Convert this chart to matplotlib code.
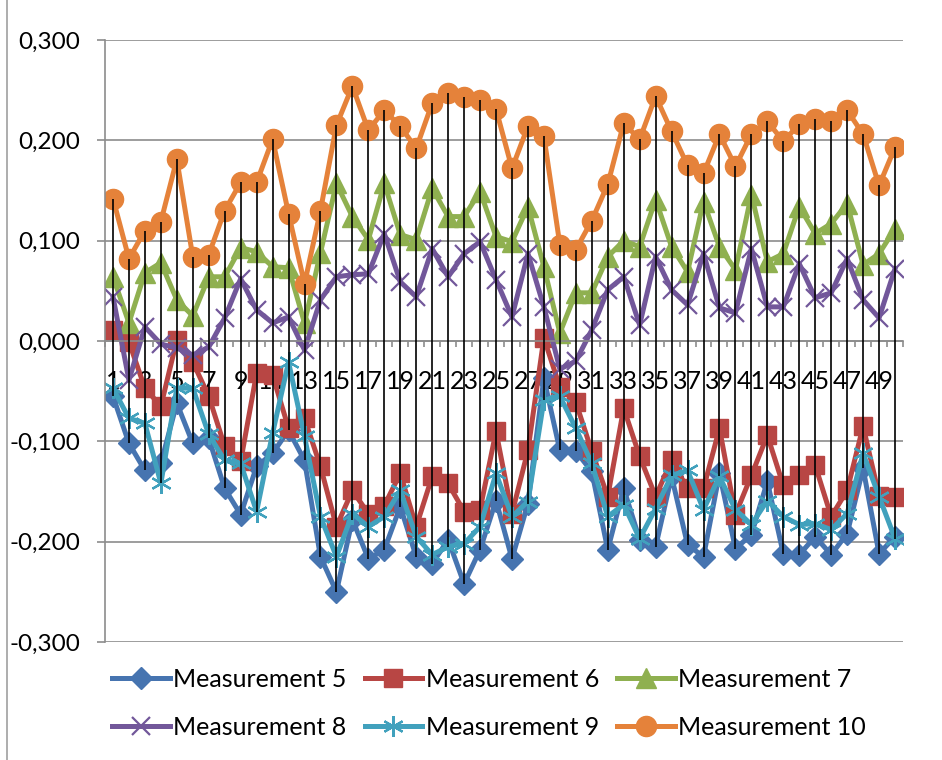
import numpy as np
import matplotlib
matplotlib.use("Agg")
import matplotlib.pyplot as plt
from matplotlib.lines import Line2D
from matplotlib.ticker import FuncFormatter, MultipleLocator

plt.rcParams['font.family'] = ['Lato', 'DejaVu Sans']

# values
m5 = [-0.055, -0.102, -0.129, -0.122, -0.062, -0.102, -0.097, -0.147, -0.173, -0.125,
      -0.112, -0.089, -0.119, -0.215, -0.250, -0.178, -0.217, -0.208, -0.165, -0.215,
      -0.222, -0.198, -0.242, -0.208, -0.159, -0.217, -0.162, -0.037, -0.109, -0.110,
      -0.130, -0.208, -0.147, -0.198, -0.205, -0.135, -0.203, -0.215, -0.132, -0.207,
      -0.193, -0.140, -0.212, -0.213, -0.195, -0.213, -0.192, -0.127, -0.212, -0.195]
m6 = [0.011, -0.001, -0.047, -0.065, 0.001, -0.021, -0.055, -0.105, -0.120, -0.032,
      -0.034, -0.087, -0.077, -0.125, -0.185, -0.149, -0.172, -0.164, -0.132, -0.185,
      -0.135, -0.142, -0.170, -0.168, -0.090, -0.172, -0.109, 0.003, -0.046, -0.061,
      -0.110, -0.155, -0.067, -0.115, -0.155, -0.119, -0.147, -0.147, -0.087, -0.173,
      -0.134, -0.094, -0.144, -0.134, -0.124, -0.175, -0.149, -0.085, -0.154, -0.155]
m7 = [0.064, 0.018, 0.068, 0.078, 0.041, 0.025, 0.064, 0.064, 0.093, 0.089,
      0.074, 0.073, 0.018, 0.088, 0.157, 0.124, 0.101, 0.157, 0.106, 0.101,
      0.152, 0.124, 0.124, 0.149, 0.104, 0.099, 0.134, 0.074, 0.008, 0.048,
      0.048, 0.084, 0.100, 0.094, 0.141, 0.094, 0.069, 0.139, 0.094, 0.071,
      0.146, 0.079, 0.087, 0.134, 0.107, 0.117, 0.137, 0.076, 0.087, 0.112]
m8 = [0.044, -0.039, 0.014, -0.003, -0.007, -0.014, -0.006, 0.023, 0.062, 0.031,
      0.018, 0.024, -0.009, 0.041, 0.064, 0.066, 0.067, 0.107, 0.059, 0.044,
      0.092, 0.064, 0.087, 0.099, 0.061, 0.024, 0.087, 0.034, -0.028, -0.020,
      0.011, 0.051, 0.064, 0.016, 0.084, 0.051, 0.036, 0.087, 0.033, 0.028,
      0.092, 0.034, 0.034, 0.077, 0.043, 0.048, 0.082, 0.041, 0.023, 0.072]
m9 = [-0.047, -0.077, -0.082, -0.142, -0.047, -0.047, -0.093, -0.119, -0.122, -0.170,
      -0.092, -0.021, -0.095, -0.175, -0.215, -0.172, -0.185, -0.175, -0.149, -0.195,
      -0.213, -0.205, -0.202, -0.185, -0.132, -0.175, -0.160, -0.059, -0.055, -0.087,
      -0.122, -0.175, -0.163, -0.197, -0.167, -0.134, -0.129, -0.168, -0.135, -0.168,
      -0.183, -0.159, -0.175, -0.183, -0.182, -0.188, -0.172, -0.112, -0.155, -0.197]
m10 = [0.142, 0.082, 0.110, 0.119, 0.181, 0.084, 0.086, 0.130, 0.158, 0.158,
       0.201, 0.127, 0.057, 0.130, 0.215, 0.254, 0.210, 0.230, 0.214, 0.192,
       0.237, 0.247, 0.243, 0.240, 0.231, 0.172, 0.214, 0.204, 0.096, 0.091,
       0.120, 0.156, 0.217, 0.201, 0.244, 0.209, 0.175, 0.167, 0.206, 0.174,
       0.206, 0.219, 0.199, 0.216, 0.221, 0.219, 0.230, 0.206, 0.155, 0.193]

names = ['Measurement 5', 'Measurement 6', 'Measurement 7',
         'Measurement 8', 'Measurement 9', 'Measurement 10']
series = [m5, m6, m7, m8, m9, m10]
x = np.arange(1, len(m5) + 1)

styles = [
    dict(color='#4674B0', marker='D', ms=11.5),
    dict(color='#B84644', marker='s', ms=13),
    dict(color='#8FB050', marker='^', ms=14),
    dict(color='#72579A', marker='x', ms=13, mew=1.6),
    dict(color='#41A1BD', marker=(6, 2, 0), ms=15, mew=1.6),
    dict(color='#E5823A', marker='o', ms=14.5),
]

fig = plt.figure(figsize=(9.42, 7.6), dpi=100)
ax = fig.add_axes([105 / 942, 1 - 642 / 760, 798 / 942, 602 / 760])

grid_c = '#8C8C8C'
lines = []
for name, vals, st in zip(names, series, styles):
    ln, = ax.plot(x, vals, lw=3.6, label=name, solid_joinstyle='round', **st)
    lines.append(ln)

# high-low lines
arr = np.array(series)
ax.vlines(x, arr.min(axis=0), arr.max(axis=0), color='black', lw=1.2, zorder=5)

ax.set_xlim(0.5, len(x) + 0.5)
ax.set_ylim(-0.3, 0.3)
ax.yaxis.set_major_locator(MultipleLocator(0.1))
ax.yaxis.set_major_formatter(FuncFormatter(lambda v, p: f'{v:.3f}'.replace('.', ',')))
ax.grid(axis='y', color=grid_c, lw=1.2)
ax.set_axisbelow(True)

for s in ['top', 'right']:
    ax.spines[s].set_visible(False)
ax.spines['left'].set_color(grid_c)
ax.spines['left'].set_linewidth(1.2)
ax.spines['bottom'].set_position(('data', 0))
ax.spines['bottom'].set_color(grid_c)
ax.spines['bottom'].set_linewidth(1.2)

ax.set_xticks(x[::2])
ax.set_xticklabels([str(v) for v in x[::2]])
ax.set_xticks(np.arange(0.5, len(x) + 1, 1), minor=True)
ax.tick_params(axis='x', which='major', length=0, pad=21, labelsize=18)
ax.tick_params(axis='x', which='minor', length=4, width=1.2, color=grid_c, direction='out')
ax.tick_params(axis='y', length=6, width=1.2, color=grid_c, pad=12, labelsize=17.5)

order = [0, 3, 1, 4, 2, 5]
leg = fig.legend([lines[i] for i in order], [names[i] for i in order],
                 ncol=3, loc='upper left', bbox_to_anchor=(102 / 942, 1 - 658 / 760),
                 frameon=False, fontsize=18, handlelength=2.3, columnspacing=0.72,
                 handletextpad=0.15, labelspacing=1.0, borderaxespad=0)

fig.add_artist(Line2D([7 / 942, 7 / 942], [0, 1], color='#A0A0A0', lw=1.2))

fig.savefig('out.png', dpi=100)
